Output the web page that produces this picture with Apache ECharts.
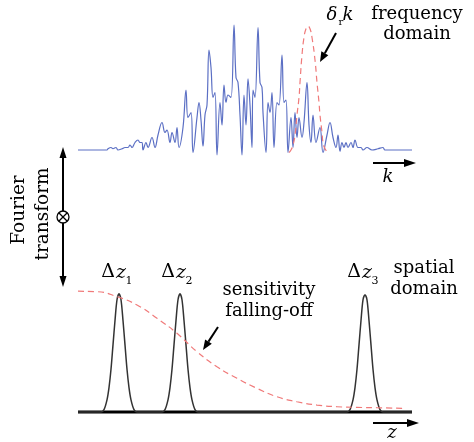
<!DOCTYPE html>
<html>
<head>
<meta charset="utf-8">
<script src="https://cdn.jsdelivr.net/npm/echarts@6/dist/echarts.min.js"></script>
<style>
html, body { margin: 0; padding: 0; background: #fff; }
#chart { width: 474px; height: 442px; }
</style>
</head>
<body>
<div id="chart"></div>
<script>
// frequency domain, interference spectrum (k position, amplitude)
var specK = [
  0, 29, 30, 33, 35, 38, 40, 44, 47, 50,
  52, 54, 57, 60, 62, 64, 65, 68, 70, 74,
  77, 80, 84, 87, 89, 92, 94, 97, 99, 101,
  105, 108, 110, 113, 115, 119, 121, 123, 125, 127,
  129, 131, 133, 135, 137, 139, 142, 144, 146, 148,
  150, 153, 156, 158, 160, 162, 164, 166, 168, 170,
  172, 174, 175, 177, 180, 182, 184, 185, 188, 190,
  192, 194, 196, 199, 201, 204, 206, 208, 210, 213,
  215, 217, 219, 221, 224, 226, 229, 231, 233, 235,
  238, 242, 245, 249, 252, 255, 258, 260, 262, 264,
  266, 268, 270, 273, 275, 277, 280, 283, 285, 289,
  294, 300, 305, 307, 334
];
var specAmp = [
  0, 0, 1, 2, 1, 2, 0, 1, 2, 2,
  4, 2, 6, 8, 6, 6, 0, 6, 2, 10,
  2, 12, 22, 14, 16, 6, 14, 6, 18, 2,
  18, 48, 26, 30, -2, 26, 38, 24, 3, 28,
  36, 80, 66, 42, 46, -4, 38, 20, 52, 38,
  44, 42, 100, 58, 54, 28, -4, 44, 20, 57,
  36, 2, 48, 42, 98, 54, 50, 30, -2, 38,
  30, 46, 2, 38, 36, 76, 38, 40, -2, 26,
  2, 30, 10, 26, 10, 22, 54, 20, 6, 28,
  6, 18, -2, 12, 22, 10, 2, 12, -1, 6,
  2, 6, 2, 6, 2, 8, 2, 2, 0, 2,
  0, 1, 2, 0, 0
];
// spectral resolution peak (delta_r k)
var resK = [211, 213, 215, 217, 219, 221, 222, 224, 226, 228, 230, 232, 234, 237, 239, 241, 242, 244, 245, 247, 250];
var resAmp = [-2, 0, 4, 12, 28, 42, 54, 76, 90, 97, 99, 97, 90, 72, 54, 38, 28, 14, 6, 1, -2];

// spatial domain, A-scan peaks
var depthZ = [
  0,
  23, 26, 29, 31, 33, 35, 37, 39, 41, 43, 45, 47, 49, 51, 53, 56, 59,
  84, 87, 90, 92, 94, 96, 98, 100, 102, 104, 106, 108, 110, 112, 114, 117, 120,
  269, 272, 275, 277, 279, 281, 283, 285, 287, 289, 291, 293, 295, 297, 299, 302, 305,
  334
];
var depthAmp = [
  0,
  0, 2, 10, 20, 35, 55, 75, 92, 97, 92, 75, 55, 35, 20, 10, 2, 0,
  0, 2, 10, 20, 35, 55, 75, 92, 97, 92, 75, 55, 35, 20, 10, 2, 0,
  0, 2, 10, 20, 35, 55, 75, 92, 96, 92, 75, 55, 35, 20, 10, 2, 0,
  0
];
// sensitivity falling-off
var rollZ = [0, 19, 39, 59, 79, 99, 119, 139, 159, 179, 199, 219, 239, 259, 279, 299, 325];
var rollAmp = [99, 98.6, 94.5, 87.7, 76.8, 64.5, 49.4, 37.1, 27.6, 19.4, 12.5, 8.4, 5.7, 4.3, 3.8, 3.5, 3.0];

function zip(a, b) {
  return a.map(function (v, i) { return [v, b[i]]; });
}

var FONT = '18px "DejaVu Serif"';
var IFONT = 'italic 18px "DejaVu Serif"';

function txt(s, x, y, font, extra) {
  var el = {
    type: 'text', x: x, y: y,
    style: { text: s, font: font || FONT, fill: '#000', align: 'center', verticalAlign: 'middle' }
  };
  if (extra) for (var k in extra) el[k] = extra[k];
  return el;
}

function arrow(x1, y1, x2, y2, len, half) {
  var a = Math.atan2(y2 - y1, x2 - x1);
  var bx = x2 - len * Math.cos(a), by = y2 - len * Math.sin(a);
  var px = -Math.sin(a) * half, py = Math.cos(a) * half;
  return [
    { type: 'line', shape: { x1: x1, y1: y1, x2: bx, y2: by }, style: { stroke: '#000', lineWidth: 2 } },
    { type: 'polygon', shape: { points: [[x2, y2], [bx + px, by + py], [bx - px, by - py]] }, style: { fill: '#000' } }
  ];
}

// Δz with subscript
function delta(x, y, sub) {
  return [
    txt('Δ', x, y, '19px "DejaVu Serif"'),
    txt('z', x + 13, y + 1, 'italic 19px "DejaVu Serif"'),
    txt(sub, x + 21, y + 9, '11px "DejaVu Serif"')
  ];
}

var graphics = [].concat(
  [
    txt('frequency', 417, 14),
    txt('domain', 417, 34),
    txt('δ', 332, 15, IFONT),
    txt('r', 341, 22, '10px "DejaVu Serif"'),
    txt('k', 348, 15, IFONT),
    txt('k', 388, 177, IFONT),
    txt('Fourier', 19, 210, '18.5px "DejaVu Serif"', { rotation: Math.PI / 2 }),
    txt('transform', 43, 214, '18.5px "DejaVu Serif"', { rotation: Math.PI / 2 }),
    txt('spatial', 424, 268),
    txt('domain', 424, 289),
    txt('sensitivity', 269, 290),
    txt('falling-off', 269, 311),
    txt('z', 392, 433, IFONT)
  ],
  arrow(336, 33, 320, 62, 10, 4),
  arrow(373, 163, 416, 163, 12, 4),
  arrow(218, 327, 203, 350, 10, 4),
  arrow(373, 423, 419, 423, 12, 4),
  arrow(63, 217, 63, 147, 11, 3.5),
  arrow(63, 217, 63, 287, 11, 3.5),
  [
    { type: 'circle', shape: { cx: 63, cy: 217, r: 6 }, style: { fill: '#fff', stroke: '#000', lineWidth: 1.3 } },
    { type: 'line', shape: { x1: 59, y1: 213, x2: 67, y2: 221 }, style: { stroke: '#000', lineWidth: 1.2 } },
    { type: 'line', shape: { x1: 67, y1: 213, x2: 59, y2: 221 }, style: { stroke: '#000', lineWidth: 1.2 } }
  ],
  delta(108, 272, '1'),
  delta(168, 272, '2'),
  delta(354, 272, '3')
);

var chart = echarts.init(document.getElementById('chart'), null, { renderer: 'canvas' });
chart.setOption({
  animation: false,
  backgroundColor: '#fff',
  grid: [
    { left: 78, width: 334, top: 25, height: 137.5 },
    { left: 78, width: 334, top: 290, height: 122 }
  ],
  xAxis: [
    { type: 'value', gridIndex: 0, min: 0, max: 334, show: false },
    { type: 'value', gridIndex: 1, min: 0, max: 334, show: false }
  ],
  yAxis: [
    { type: 'value', gridIndex: 0, min: -10, max: 100, show: false },
    { type: 'value', gridIndex: 1, min: 0, max: 100, show: false }
  ],
  series: [
    {
      type: 'line', xAxisIndex: 0, yAxisIndex: 0, data: zip(specK, specAmp),
      showSymbol: false, smooth: 0.4, clip: false,
      lineStyle: { color: '#5b6fc4', width: 1.2 }
    },
    {
      type: 'line', xAxisIndex: 0, yAxisIndex: 0, data: zip(resK, resAmp),
      showSymbol: false, smooth: true, clip: false,
      lineStyle: { color: '#f07a7a', width: 1.2, type: [6, 4] }
    },
    {
      type: 'line', xAxisIndex: 1, yAxisIndex: 1, data: [[0, 0], [334, 0]],
      showSymbol: false, clip: false,
      lineStyle: { color: '#000', width: 3 }
    },
    {
      type: 'line', xAxisIndex: 1, yAxisIndex: 1, data: zip(depthZ, depthAmp),
      showSymbol: false, smooth: 0.3, clip: false,
      lineStyle: { color: '#333', width: 1.5 }
    },
    {
      type: 'line', xAxisIndex: 1, yAxisIndex: 1, data: zip(rollZ, rollAmp),
      showSymbol: false, smooth: true, clip: false,
      lineStyle: { color: '#f07a7a', width: 1.2, type: [6, 4] }
    }
  ],
  graphic: graphics
});
</script>
</body>
</html>
